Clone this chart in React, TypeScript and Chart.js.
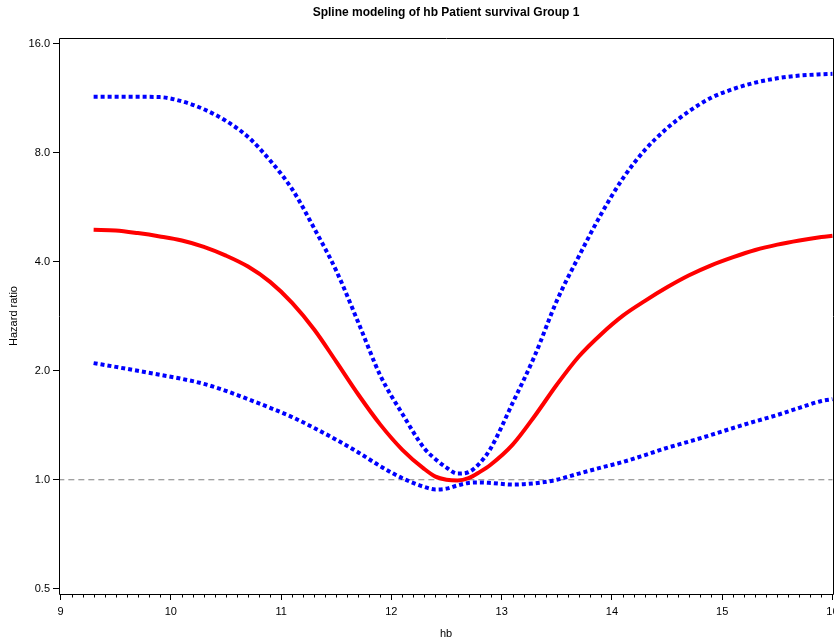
import React, { useEffect, useRef } from 'react';
import { Chart, registerables } from 'chart.js';
Chart.register(...registerables);

const hbValues = [9.3, 9.5, 9.7, 9.9, 10.1, 10.3, 10.5, 10.7, 10.9, 11.1, 11.3, 11.5, 11.7, 11.9, 12.1, 12.3, 12.4, 12.5, 12.6, 12.7, 12.8, 12.9, 13.1, 13.3, 13.5, 13.7, 13.9, 14.1, 14.3, 14.5, 14.7, 14.9, 15.1, 15.3, 15.5, 15.7, 15.9, 16.0];
const hazardRatio = [4.9, 4.88, 4.8, 4.7, 4.58, 4.4, 4.16, 3.88, 3.52, 3.08, 2.6, 2.12, 1.72, 1.42, 1.21, 1.07, 1.02, 1.0, 0.995, 1.01, 1.05, 1.1, 1.25, 1.5, 1.83, 2.19, 2.52, 2.84, 3.12, 3.4, 3.67, 3.91, 4.12, 4.31, 4.46, 4.58, 4.68, 4.72];
const upperCI = [11.42, 11.42, 11.42, 11.4, 11.1, 10.55, 9.8, 8.85, 7.62, 6.35, 4.95, 3.78, 2.72, 1.94, 1.52, 1.22, 1.14, 1.08, 1.04, 1.05, 1.11, 1.22, 1.63, 2.2, 3.12, 4.14, 5.4, 6.8, 8.15, 9.35, 10.42, 11.35, 12.0, 12.5, 12.85, 13.07, 13.18, 13.22];
const lowerCI = [2.1, 2.05, 2.0, 1.95, 1.9, 1.84, 1.76, 1.67, 1.58, 1.49, 1.39, 1.29, 1.19, 1.09, 1.01, 0.955, 0.94, 0.945, 0.965, 0.98, 0.983, 0.98, 0.97, 0.978, 1.0, 1.04, 1.08, 1.12, 1.17, 1.225, 1.275, 1.33, 1.39, 1.45, 1.51, 1.58, 1.65, 1.67];
const referenceLine = [{ x: 8.98, y: 1 }, { x: 16.0, y: 1 }];
const yTickValues = [0.5, 1, 2, 4, 8, 16];
const xTickValues = [9, 10, 11, 12, 13, 14, 15, 16];
const titleText = 'Spline modeling of hb Patient survival Group 1';
const FONT = '"Liberation Sans", Arial, Helvetica, sans-serif';

export default function App() {
  const ref = useRef<HTMLCanvasElement>(null);
  useEffect(() => {
    document.body.style.margin = '0';
    const toPts = (ys: number[]) => hbValues.map((x, i) => ({ x, y: ys[i] }));
    const framePlugin = {
      id: 'frame',
      afterDraw(chart: any) {
        const { ctx, chartArea } = chart;
        const { left, right, top, bottom } = chartArea;
        const xs = chart.scales.x;
        ctx.save();
        ctx.strokeStyle = '#000';
        ctx.lineWidth = 1;
        const l = Math.floor(left) + 0.5, r = Math.floor(right) + 0.5, t = Math.floor(top) + 0.5, b = Math.floor(bottom) + 0.5;
        ctx.beginPath();
        ctx.moveTo(l, t); ctx.lineTo(r, t); ctx.lineTo(r, b); ctx.lineTo(l, b); ctx.closePath();
        ctx.stroke();
        ctx.beginPath();
        for (let k = 90; k <= 160; k++) {
          if (k % 10 === 0) continue;
          const px = Math.round(xs.getPixelForValue(k / 10)) + 0.5;
          ctx.moveTo(px, b);
          ctx.lineTo(px, b + 3);
        }
        ctx.stroke();
        ctx.fillStyle = '#000';
        ctx.font = 'bold 12px ' + FONT;
        ctx.textAlign = 'center';
        ctx.textBaseline = 'middle';
        ctx.fillText(titleText, (left + right) / 2, 13);
        ctx.restore();
      },
    };
    const curve = { pointRadius: 0, cubicInterpolationMode: 'monotone', fill: false };
    const chart = new Chart(ref.current as HTMLCanvasElement, {
      type: 'line',
      data: {
        datasets: [
          { ...curve, data: toPts(upperCI), borderColor: '#0000ff', borderWidth: 4, borderDash: [4, 3] },
          { ...curve, data: toPts(lowerCI), borderColor: '#0000ff', borderWidth: 4, borderDash: [4, 3] },
          { ...curve, data: toPts(hazardRatio), borderColor: '#ff0000', borderWidth: 4 },
          { data: referenceLine, borderColor: '#808080', borderWidth: 1, borderDash: [6, 4], pointRadius: 0, fill: false },
        ],
      },
      options: {
        animation: false,
        responsive: false,
        maintainAspectRatio: false,
        layout: { padding: { top: 38, right: 1, bottom: 0, left: 0 } },
        plugins: { legend: { display: false }, title: { display: false }, tooltip: { enabled: false } },
        scales: {
          x: {
            type: 'linear',
            min: 8.986,
            max: 16.005,
            afterBuildTicks: (s: any) => { s.ticks = xTickValues.map((v) => ({ value: v })); },
            afterFit: (s: any) => { s.height = 48; s.paddingLeft = 0; s.paddingRight = 0; },
            ticks: { color: '#000', font: { family: FONT, size: 11 }, padding: 5, maxRotation: 0, autoSkip: false, callback: (v: any) => String(v) },
            grid: { drawOnChartArea: false, drawTicks: true, tickLength: 6, color: '#000' },
            border: { display: false },
            title: { display: true, text: 'hb', color: '#000', font: { family: FONT, size: 11 }, padding: { top: 0, bottom: 1 } },
          },
          y: {
            type: 'logarithmic',
            min: 0.4836,
            max: 16.6,
            afterBuildTicks: (s: any) => { s.ticks = yTickValues.map((v) => ({ value: v })); },
            afterFit: (s: any) => { s.width = 59; s.paddingTop = 0; s.paddingBottom = 0; },
            ticks: { color: '#000', font: { family: FONT, size: 11 }, padding: 3, autoSkip: false, callback: (v: any) => Number(v).toFixed(1) },
            grid: { drawOnChartArea: false, drawTicks: true, tickLength: 6, color: '#000' },
            border: { display: false },
            title: { display: true, text: 'Hazard ratio', color: '#000', font: { family: FONT, size: 11 }, padding: { top: 7, bottom: 0 } },
          },
        },
      },
      plugins: [framePlugin],
    } as any);
    return () => chart.destroy();
  }, []);
  return (
    <div style={{ width: 834, height: 642 }}>
      <canvas ref={ref} width={834} height={642} style={{ display: 'block' }} />
    </div>
  );
}
